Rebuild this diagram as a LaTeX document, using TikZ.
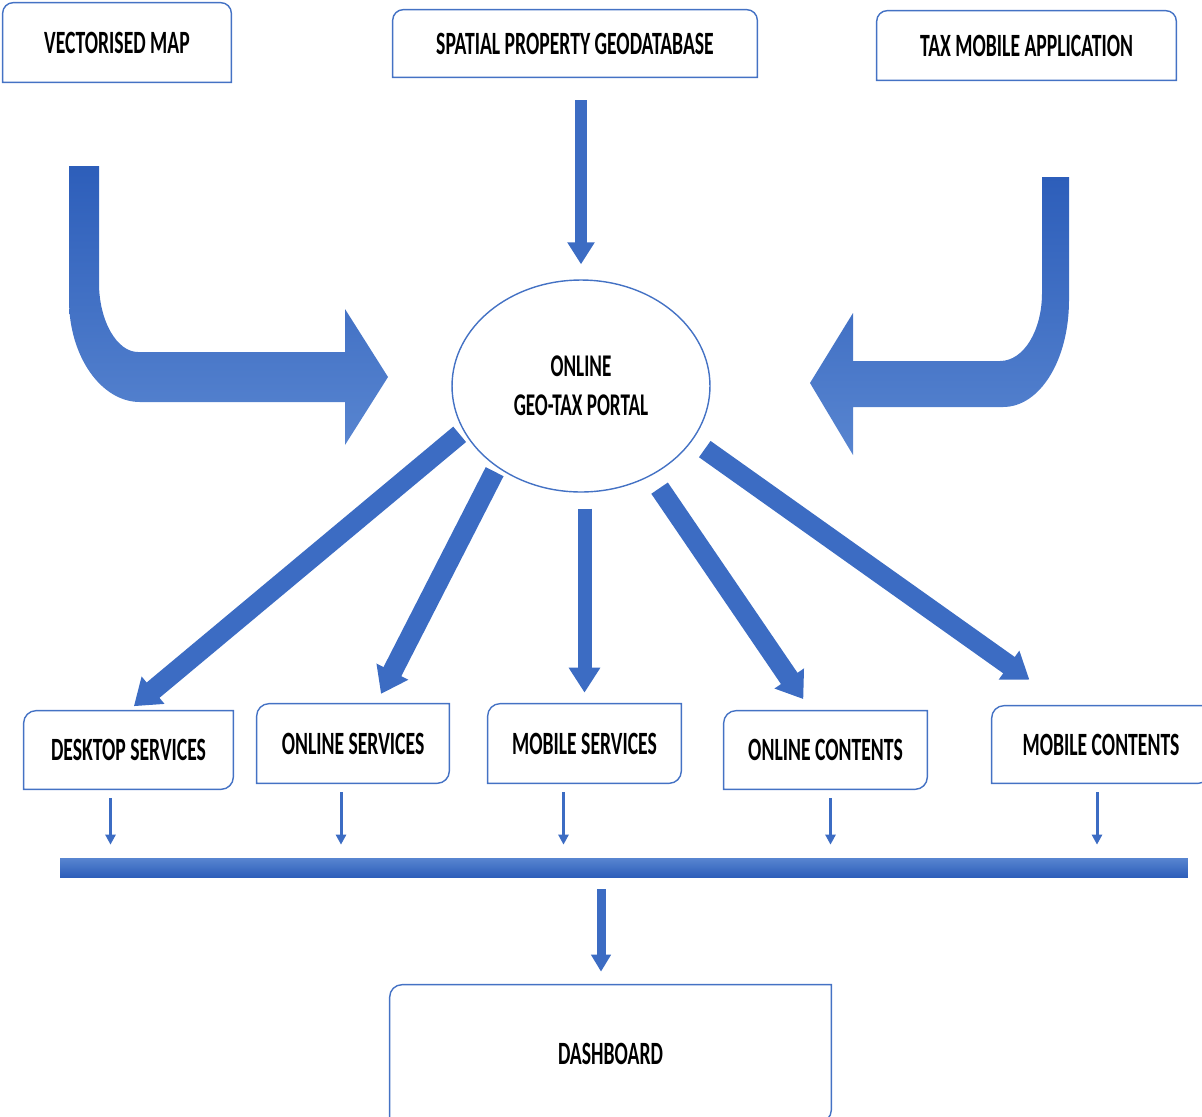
\documentclass[tikz,border=0pt]{standalone}
\usepackage{fontspec}
\newfontfamily\boxfamily[FakeStretch=0.605]{Carlito}
\usetikzlibrary{arrows.meta,shapes.geometric,calc}
\definecolor{boxblue}{RGB}{68,114,196}
\definecolor{arrowblue}{RGB}{60,108,195}
\definecolor{arrowdark}{RGB}{45,94,186}
\definecolor{arrowlight}{RGB}{88,133,208}

% box borders with only some corners rounded
\newcommand{\roundtop}[1]{%
  \draw[boxline] (#1.south west) -- ([yshift=-6pt]#1.north west)
    arc[start angle=180,end angle=90,radius=6pt] -- ([xshift=-6pt]#1.north east)
    arc[start angle=90,end angle=0,radius=6pt] -- (#1.south east) -- cycle;}
\newcommand{\rounddiag}[1]{%
  \draw[boxline] (#1.south west) -- ([yshift=-7pt]#1.north west)
    arc[start angle=180,end angle=90,radius=7pt] -- (#1.north east)
    -- ([yshift=7pt]#1.south east) arc[start angle=0,end angle=-90,radius=7pt] -- cycle;}

\tikzset{
  boxtext/.style={inner sep=0pt, align=center, text=black,
    font=\boxfamily\bfseries\fontsize{18.5}{22}\selectfont},
  boxline/.style={draw=boxblue, line width=0.8pt},
  fatarrow/.style={draw=arrowblue, line width=0.4cm, -{Triangle[width=0.68cm,length=0.5cm]}},
  midarrow/.style={draw=arrowblue, line width=0.28cm, -{Triangle[width=0.6cm,length=0.5cm]}},
  toparrow/.style={draw=arrowblue, line width=0.24cm, -{Triangle[width=0.52cm,length=0.44cm]}},
  dasharrow/.style={draw=arrowblue, line width=0.18cm, -{Triangle[width=0.38cm,length=0.34cm]}},
  thinarrow/.style={draw=arrowblue, line width=0.06cm, -{Triangle[width=0.2cm,length=0.2cm]}},
  bar/.style={inner sep=0pt, minimum width=22.56cm, minimum height=0.38cm,
    top color=arrowlight, bottom color=arrowdark}
}

\begin{document}
\begin{tikzpicture}[x=0.02cm,y=0.02cm]
  \useasboundingbox (0,0) rectangle (1202,-1116);

  % sources
  \node[boxtext, minimum width=4.56cm, minimum height=1.58cm] (vmap) at (117,-42.5) {VECTORISED MAP};
  \node[boxtext, minimum width=7.28cm, minimum height=1.34cm] (spdb) at (575,-43.5) {SPATIAL PROPERTY GEODATABASE};
  \node[boxtext, minimum width=5.98cm, minimum height=1.38cm] (tmob) at (1026.5,-45.5) {TAX MOBILE APPLICATION};
  \roundtop{vmap}
  \roundtop{spdb}
  \roundtop{tmob}

  % portal
  \node[ellipse, draw=boxblue, line width=0.8pt, minimum width=5.16cm, minimum height=4.24cm,
    inner sep=0pt, align=center, font=\boxfamily\bfseries\fontsize{18}{22}\selectfont] (portal)
    at (581,-386) {ONLINE\\GEO-TAX PORTAL};

  % services and contents
  \node[boxtext, minimum width=4.18cm, minimum height=1.56cm] (desk) at (128.5,-750) {DESKTOP SERVICES};
  \node[boxtext, minimum width=3.84cm, minimum height=1.58cm] (onls) at (353,-743.5) {ONLINE SERVICES};
  \node[boxtext, minimum width=3.86cm, minimum height=1.58cm] (mobs) at (584.5,-743.5) {MOBILE SERVICES};
  \node[boxtext, minimum width=4.06cm, minimum height=1.56cm] (onlc) at (825.5,-750) {ONLINE CONTENTS};
  \node[boxtext, minimum width=4.36cm, minimum height=1.54cm] (mobc) at (1101,-744.5) {MOBILE CONTENTS};
  \foreach \b in {desk,onls,mobs,onlc,mobc}
    {\rounddiag{\b}}

  \node[bar] (bar) at (624,-867.5) {};

  \node[boxtext, minimum width=8.82cm, minimum height=2.74cm] (dash) at (610.5,-1053.5) {DASHBOARD};
  \rounddiag{dash}

  % bent arrows into the portal
  \shade[top color=arrowdark, bottom color=arrowlight]
    (69,-166) -- (99,-166) -- (99,-283) .. controls (99,-321) and (117,-352) .. (138,-352)
    -- (345,-352) -- (345,-309) -- (388,-377) -- (345,-445) -- (345,-402) -- (140,-402)
    .. controls (101,-402) and (69,-356) .. (69,-300) -- cycle;
  \shade[top color=arrowdark, bottom color=arrowlight]
    (1042,-177) -- (1069,-177) -- (1069,-300) .. controls (1069,-360) and (1040,-407) .. (1003,-407)
    -- (853,-407) -- (853,-455) -- (810,-383) -- (853,-313) -- (853,-361) -- (1000,-361)
    .. controls (1024,-361) and (1042,-330) .. (1042,-293) -- cycle;
  \draw[toparrow, shorten <=0.46cm, shorten >=0.3cm] (spdb.south -| portal.north) -- (portal.north);

  % portal to the services
  \draw[fatarrow, shorten <=0.1cm, shorten >=0.14cm] (portal.201) -- (desk.north);
  \draw[fatarrow, shorten <=0.1cm, shorten >=0.22cm] (portal.224) -- (onls.60);
  \draw[midarrow, shorten <=0.32cm, shorten >=0.22cm] (mobs.north |- portal.south) -- (mobs.north);
  \draw[fatarrow, shorten <=0.3cm, shorten >=0.28cm] (portal.308) -- (onlc.110);
  \draw[fatarrow, shorten <=0.3cm, shorten >=0.9cm] (portal.334) -- (mobc.132);

  % down to the bar and the dashboard
  \foreach \b/\dx in {desk/-18, onls/-12, mobs/-21, onlc/5, mobc/-4}
    \draw[thinarrow, shorten <=0.18cm, shorten >=0.26cm]
      ([xshift=\dx*0.02cm]\b.south) -- ([xshift=\dx*0.02cm]\b.south |- bar.north);
  \draw[dasharrow, shorten <=0.24cm, shorten >=0.26cm]
    ([xshift=-0.19cm]dash.north |- bar.south) -- ([xshift=-0.19cm]dash.north);
\end{tikzpicture}
\end{document}
